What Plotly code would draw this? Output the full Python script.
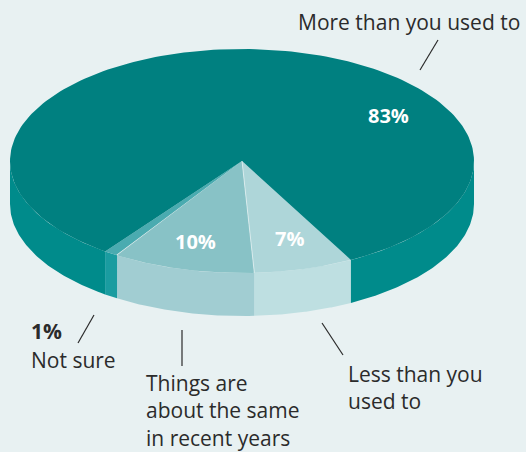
import numpy as np
import plotly.graph_objects as go

# Survey answers and their shares (percent)
categories = ["Less than you used to",
              "Things are about the same in recent years",
              "Not sure",
              "More than you used to"]
values = [7, 10, 1, 83]
pct_labels = ["7%", "10%", "1%", "83%"]

top_colors = ["#aed6d9", "#88c2c6", "#4aabb0", "#008080"]
side_colors = ["#bedfe1", "#a1cdd2", "#1a9ca0", "#008b8b"]

# Projected disc geometry (pixel space)
CX, CY, RX, RY, DEPTH = 242, 161, 232, 112, 43
START = -62.0  # degrees, slices run clockwise from here
BG = "#e8f1f2"


def rim(theta_deg, drop=0.0):
    t = np.radians(theta_deg)
    return CX + RX * np.cos(t), CY - RY * np.sin(t) + drop


fig = go.Figure()

total = sum(values)
bounds = [START]
for v in values:
    bounds.append(bounds[-1] - 360.0 * v / total)

# Side walls: only the front half of the rim (-180..0 deg, modulo 360) is visible
for i in range(len(values)):
    a0, a1 = bounds[i], bounds[i + 1]  # a0 > a1
    for k in (0, -1, -2):
        lo, hi = -180 + 360 * k, 0 + 360 * k
        s, e = min(a0, hi), max(a1, lo)
        if s <= e:
            continue
        th = np.linspace(s, e, 80)
        xt, yt = rim(th)
        xb, yb = rim(th[::-1], DEPTH)
        fig.add_trace(go.Scatter(
            x=np.concatenate([xt, xb, xt[:1]]),
            y=np.concatenate([yt, yb, yt[:1]]),
            mode="lines", fill="toself", fillcolor=side_colors[i],
            line=dict(width=0), hoverinfo="skip", showlegend=False))

# Top face wedges
for i in range(len(values)):
    a0, a1 = bounds[i], bounds[i + 1]
    th = np.linspace(a0, a1, 200)
    xr, yr = rim(th)
    fig.add_trace(go.Scatter(
        x=np.concatenate([[CX], xr, [CX]]),
        y=np.concatenate([[CY], yr, [CY]]),
        mode="lines", fill="toself", fillcolor=top_colors[i],
        line=dict(width=0), name=categories[i],
        hovertemplate=f"{categories[i]}: {values[i]}%<extra></extra>",
        showlegend=False))

# Faint highlight along the edge between the two light wedges
ex, ey = rim(bounds[1])
fig.add_trace(go.Scatter(x=[CX, ex], y=[CY, ey], mode="lines",
                         line=dict(color="rgba(255,255,255,0.55)", width=1),
                         hoverinfo="skip", showlegend=False))

FONT = "Open Sans"
TXT = "#2b2b2b"
SIZE = 21

# Percentages on the wedges
inner = [(pct_labels[0], 289, 238), (pct_labels[1], 195, 241), (pct_labels[3], 388, 115)]
for t, x, y in inner:
    fig.add_annotation(x=x, y=y, text=f"<b>{t}</b>", showarrow=False,
                       font=dict(family=FONT, size=20, color="white"))

# Callout labels
fig.add_annotation(x=409, y=22, text=categories[3], showarrow=False,
                   font=dict(family=FONT, size=SIZE, color=TXT))
fig.add_annotation(x=29, y=331, text=f"<b>{pct_labels[2]}</b>", showarrow=False,
                   xanchor="left", font=dict(family=FONT, size=SIZE, color=TXT))
fig.add_annotation(x=29, y=360, text=categories[2], showarrow=False, xanchor="left",
                   font=dict(family=FONT, size=SIZE, color=TXT))
fig.add_annotation(x=144, y=410, text="Things are<br>about the same<br>in recent years",
                   showarrow=False, xanchor="left", align="left",
                   font=dict(family=FONT, size=SIZE, color=TXT))
fig.add_annotation(x=346, y=387, text="Less than you<br>used to",
                   showarrow=False, xanchor="left", align="left",
                   font=dict(family=FONT, size=SIZE, color=TXT))

# Leader lines
for (x0, y0, x1, y1) in [(438, 40, 420, 70), (94, 315, 78, 343),
                         (182, 330, 182, 366), (322, 323, 343, 355)]:
    fig.add_shape(type="line", x0=x0, y0=y0, x1=x1, y1=y1,
                  line=dict(color=TXT, width=1.2))

fig.update_xaxes(range=[0, 526], visible=False, fixedrange=True)
fig.update_yaxes(range=[452, 0], visible=False, fixedrange=True)
fig.update_layout(width=526, height=452, margin=dict(l=0, r=0, t=0, b=0),
                  paper_bgcolor=BG, plot_bgcolor=BG)

fig.write_html("out.html")
